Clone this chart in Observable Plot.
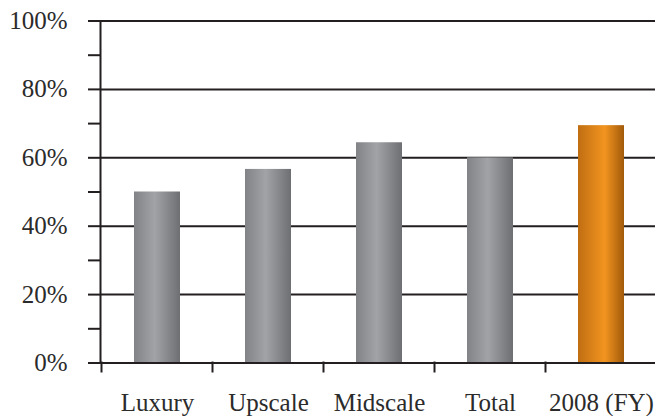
<!DOCTYPE html>
<html>
<head>
<meta charset="utf-8">
<script src="https://cdn.jsdelivr.net/npm/d3@7"></script>
<script src="https://cdn.jsdelivr.net/npm/@observablehq/plot@0.6"></script>
<style>
  html, body { margin: 0; padding: 0; background: #fff; font-family: "Liberation Serif", serif; }
  #chart { width: 655px; height: 416px; overflow: hidden; }
  #chart svg, #chart svg g, #chart svg text { font-family: "Liberation Serif", serif !important; }
</style>
</head>
<body>
<div id="chart"></div>
<script>
const categories = ["Luxury", "Upscale", "Midscale", "Total", "2008 (FY)"];
const values = [50, 56.6, 64.4, 60, 69.4];
const highlighted = ["2008 (FY)"];
const yTicks = [0, 20, 40, 60, 80, 100];
const yMinorTicks = [10, 30, 50, 70, 90];

const data = categories.map((c, i) => ({category: c, value: values[i]}));
const lineColor = "#231f20";
const textColor = "#2b2b2b";
const serif = "Liberation Serif";

const plot = Plot.plot({
  width: 655,
  height: 416,
  marginLeft: 100,
  marginRight: -2,
  marginTop: 20.5,
  marginBottom: 53.5,
  style: "font-family: 'Liberation Serif', serif; font-size: 25px; color: #2b2b2b; background: white; overflow: hidden;",
  x: {domain: categories, paddingInner: 0.587, paddingOuter: 0.2935, label: null},
  y: {domain: [0, 100], label: null},
  marks: [
    Plot.ruleY(yTicks, {stroke: lineColor, strokeWidth: 2}),
    Plot.barY(data.filter(d => !highlighted.includes(d.category)), {x: "category", y: "value", fill: "url(#grayGrad)"}),
    Plot.barY(data.filter(d => highlighted.includes(d.category)), {x: "category", y: "value", fill: "url(#orangeGrad)"}),
    Plot.ruleY([0], {stroke: lineColor, strokeWidth: 2}),
    Plot.frame({anchor: "left", stroke: lineColor, strokeWidth: 2}),
    Plot.axisY({ticks: yTicks, tickSize: 12, tickPadding: 21, tickFormat: d => d + "%", stroke: lineColor, strokeWidth: 2, fill: textColor, fontFamily: serif, fontSize: 25, label: null}),
    Plot.axisY({ticks: yMinorTicks, tickSize: 12, tickFormat: () => "", stroke: lineColor, strokeWidth: 2, label: null}),
    Plot.axisX({tickSize: 0, tickPadding: 30, fill: textColor, fontFamily: serif, fontSize: 25, label: null})
  ]
});

const svg = d3.select(plot);
const defs = svg.insert("defs", ":first-child");
const gray = defs.append("linearGradient").attr("id", "grayGrad").attr("x1", "0%").attr("x2", "100%").attr("y1", "0%").attr("y2", "0%");
[["0%", "#828386"], ["45%", "#a2a3a6"], ["100%", "#6e6f73"]].forEach(([o, c]) => gray.append("stop").attr("offset", o).attr("stop-color", c));
const orange = defs.append("linearGradient").attr("id", "orangeGrad").attr("x1", "0%").attr("x2", "100%").attr("y1", "0%").attr("y2", "0%");
[["0%", "#c06e12"], ["58%", "#f29420"], ["100%", "#a25a0a"]].forEach(([o, c]) => orange.append("stop").attr("offset", o).attr("stop-color", c));

// x-axis boundary ticks between categories, positioned from the band scale
const xs = plot.scale("x");
const ys = plot.scale("y");
const y0 = ys.apply(0);
const gap = (xs.step - xs.bandwidth) / 2;
const boundaries = categories.map(c => xs.apply(c) - gap);
svg.append("g")
  .attr("stroke", lineColor)
  .attr("stroke-width", 2)
  .selectAll("line")
  .data(boundaries)
  .join("line")
  .attr("x1", d => d).attr("x2", d => d)
  .attr("y1", y0 - 1).attr("y2", y0 + 10);

document.getElementById("chart").appendChild(plot);
</script>
</body>
</html>
